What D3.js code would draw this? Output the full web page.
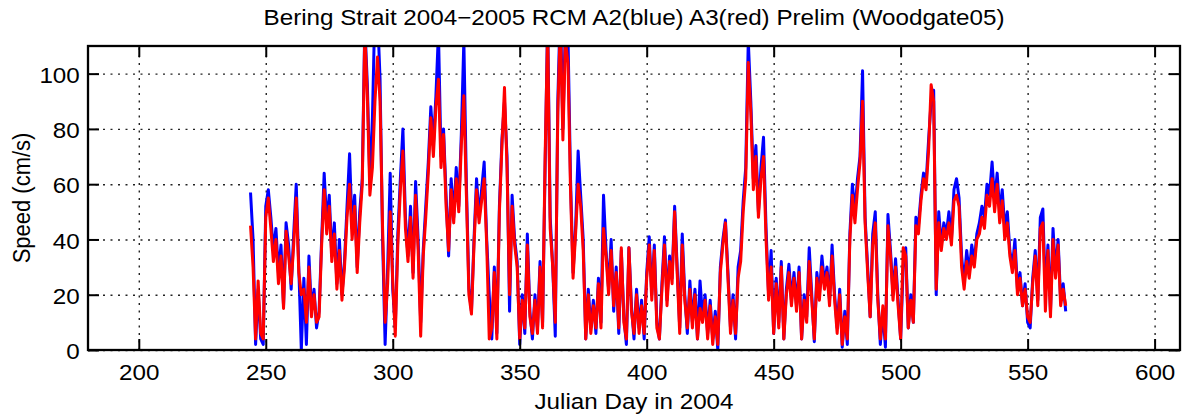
<!DOCTYPE html>
<html>
<head>
<meta charset="utf-8">
<script src="https://cdn.jsdelivr.net/npm/d3@7"></script>
<style>
body { margin: 0; background: #fff; }
text { font-family: "Liberation Sans", Arial, sans-serif; fill: #000; }
</style>
</head>
<body>
<div class="canvas"></div>
<script>
var width = 1185;
var height = 417;
var margin = { top: 46, right: 5, bottom: 67, left: 88 };

var titleText = "Bering Strait 2004\u22122005 RCM A2(blue) A3(red) Prelim (Woodgate05)";
var xLabel = "Julian Day in 2004";
var yLabel = "Speed (cm/s)";
var xTicks = [200, 250, 300, 350, 400, 450, 500, 550, 600];
var yTicks = [0, 20, 40, 60, 80, 100];

// one value per julian day, first one is day 244
var firstDay = 244;
var speedA2 = [
  57, 40, 2, 22, 4, 2, 52, 58, 48, 36, 44, 28, 38, 16, 46, 38, 22, 42, 60, 30,
  0, 26, 2, 34, 14, 22, 8, 14, 40, 64, 46, 56, 34, 46, 24, 40, 20, 32, 52, 71,
  44, 56, 30, 50, 62, 118, 96, 60, 84, 125, 122, 98, 40, 2, 30, 64, 22, 8, 42, 62,
  80, 48, 34, 52, 28, 61, 40, 10, 36, 52, 68, 88, 74, 92, 115, 70, 80, 56, 34, 62,
  48, 66, 52, 78, 112, 60, 22, 14, 40, 62, 48, 58, 68, 40, 20, 4, 30, 6, 52, 76,
  90, 70, 14, 56, 40, 32, 2, 20, 6, 42, 14, 4, 20, 8, 32, 10, 66, 120, 48, 30,
  5, 90, 125, 80, 118, 114, 62, 28, 44, 72, 56, 40, 4, 22, 8, 18, 6, 26, 10, 56,
  36, 22, 40, 14, 30, 6, 36, 12, 2, 37, 16, 4, 22, 8, 18, 4, 28, 41, 20, 38,
  10, 4, 24, 41, 18, 34, 26, 52, 30, 8, 42, 20, 6, 25, 10, 22, 4, 25, 12, 20,
  6, 18, 4, 14, 0, 30, 40, 47, 28, 8, 20, 4, 30, 36, 54, 66, 112, 90, 62, 74,
  50, 66, 77, 44, 20, 36, 6, 26, 10, 32, 4, 22, 31, 18, 28, 16, 30, 4, 20, 12,
  37, 20, 3, 28, 20, 34, 24, 30, 18, 38, 20, 8, 22, 1, 14, 2, 42, 60, 50, 62,
  70, 101, 48, 30, 12, 42, 50, 20, 2, 14, 1, 49, 36, 20, 33, 18, 4, 30, 37, 8,
  20, 10, 48, 45, 56, 64, 60, 76, 90, 94, 20, 50, 38, 46, 42, 50, 40, 58, 62, 55,
  34, 24, 36, 28, 38, 32, 42, 46, 52, 48, 60, 56, 68, 54, 64, 50, 58, 44, 50, 36,
  30, 40, 22, 28, 16, 24, 10, 8, 26, 36, 18, 48, 51, 20, 38, 14, 44, 28, 40, 18,
  24, 14
];
var speedA3 = [
  45, 30, 4, 25, 6, 4, 48, 55, 44, 32, 40, 24, 34, 15, 43, 34, 24, 38, 55, 28,
  20, 22, 10, 30, 12, 20, 10, 12, 38, 58, 42, 52, 32, 42, 22, 36, 18, 30, 48, 60,
  40, 52, 28, 46, 60, 115, 92, 56, 66, 90, 106, 90, 44, 10, 24, 50, 25, 5, 38, 58,
  72, 44, 32, 48, 26, 56, 36, 5, 34, 48, 64, 84, 70, 88, 98, 66, 78, 52, 36, 58,
  46, 62, 50, 74, 92, 56, 20, 13, 38, 58, 46, 54, 62, 38, 4, 8, 28, 4, 50, 74,
  95, 66, 20, 52, 38, 30, 4, 18, 8, 38, 12, 6, 18, 6, 30, 8, 70, 116, 44, 30,
  10, 86, 118, 76, 112, 104, 58, 26, 42, 60, 52, 36, 4, 20, 6, 16, 8, 24, 8, 44,
  34, 20, 36, 16, 28, 8, 37, 10, 4, 37, 14, 6, 20, 6, 16, 6, 26, 38, 18, 36,
  8, 4, 22, 38, 16, 32, 24, 50, 28, 6, 38, 18, 8, 22, 8, 20, 4, 15, 10, 18,
  4, 16, 2, 12, 2, 28, 38, 46, 26, 6, 18, 6, 26, 32, 50, 62, 104, 86, 58, 70,
  48, 62, 70, 40, 18, 30, 6, 24, 8, 30, 4, 20, 28, 16, 26, 14, 28, 4, 18, 10,
  32, 18, 4, 26, 18, 30, 22, 28, 16, 34, 18, 6, 20, 2, 12, 4, 40, 56, 46, 58,
  68, 90, 46, 28, 12, 38, 46, 18, 4, 16, 4, 45, 34, 18, 30, 16, 4, 37, 34, 8,
  18, 10, 45, 42, 54, 62, 58, 72, 96, 90, 22, 46, 36, 44, 40, 46, 38, 54, 56, 52,
  30, 22, 32, 26, 34, 30, 40, 42, 48, 44, 56, 52, 62, 50, 60, 46, 54, 40, 46, 34,
  28, 36, 20, 26, 16, 22, 12, 10, 24, 34, 16, 44, 46, 14, 36, 12, 40, 26, 38, 16,
  22, 16
];

var svg = d3.select(".canvas").append("svg")
    .attr("width", width)
    .attr("height", height)
    .style("background", "white");

var x = d3.scaleLinear().domain([180, 610]).range([margin.left, width - margin.right]);
var y = d3.scaleLinear().domain([0, 110]).range([height - margin.bottom, margin.top]);
var plotW = width - margin.left - margin.right;
var plotH = height - margin.top - margin.bottom;
var bottomY = height - margin.bottom;

svg.append("clipPath").attr("id", "plotclip")
    .append("rect")
    .attr("x", margin.left).attr("y", margin.top)
    .attr("width", plotW).attr("height", plotH);

// dotted grid
var gridX = svg.append("g")
    .attr("transform", "translate(0," + bottomY + ")")
    .call(d3.axisBottom(x).tickValues(xTicks).tickSize(-plotH).tickFormat(""));
var gridY = svg.append("g")
    .attr("transform", "translate(" + margin.left + ",0)")
    .call(d3.axisLeft(y).tickValues(yTicks).tickSize(-plotW).tickFormat(""));
[gridX, gridY].forEach(g => {
    g.select(".domain").remove();
    g.selectAll("line")
        .attr("stroke", "#222")
        .attr("stroke-width", 1.4)
        .attr("stroke-dasharray", "2,5.5");
});

// data lines, A2 under A3
var line = d3.line()
    .x((d, i) => x(firstDay + i))
    .y(d => y(d));

var lines = svg.append("g").attr("clip-path", "url(#plotclip)");
lines.append("path")
    .datum(speedA2)
    .attr("d", line)
    .attr("fill", "none")
    .attr("stroke", "#0000ff")
    .attr("stroke-width", 3)
    .attr("stroke-linejoin", "round");
lines.append("path")
    .datum(speedA3)
    .attr("d", line)
    .attr("fill", "none")
    .attr("stroke", "#ff0000")
    .attr("stroke-width", 3)
    .attr("stroke-linejoin", "round");

// axes with inward ticks on all four sides
var tickLen = 11;
var axB = svg.append("g")
    .attr("transform", "translate(0," + bottomY + ")")
    .call(d3.axisBottom(x).tickValues(xTicks).tickSizeInner(-tickLen).tickSizeOuter(0).tickPadding(14.5));
var axT = svg.append("g")
    .attr("transform", "translate(0," + margin.top + ")")
    .call(d3.axisTop(x).tickValues(xTicks).tickSizeInner(-tickLen).tickSizeOuter(0).tickFormat(""));
var axL = svg.append("g")
    .attr("transform", "translate(" + margin.left + ",0)")
    .call(d3.axisLeft(y).tickValues(yTicks).tickSizeInner(-tickLen).tickSizeOuter(0).tickPadding(7.5));
var axR = svg.append("g")
    .attr("transform", "translate(" + (width - margin.right) + ",0)")
    .call(d3.axisRight(y).tickValues(yTicks).tickSizeInner(-tickLen).tickSizeOuter(0).tickFormat(""));

[axB, axT, axL, axR].forEach(g => {
    g.select(".domain").remove();
    g.selectAll("line").attr("stroke", "#000").attr("stroke-width", 2);
    g.selectAll("text")
        .style("font-size", "22px")
        .style("font-family", "'Liberation Sans', Arial, sans-serif")
        .attr("fill", "#000");
});
axB.selectAll("text").attr("transform", "scale(1.1,1)");
axL.selectAll("text").attr("dy", "0.4em").attr("transform", "scale(1.1,1)");

svg.append("rect")
    .attr("x", margin.left).attr("y", margin.top)
    .attr("width", plotW).attr("height", plotH)
    .attr("fill", "none")
    .attr("stroke", "#000")
    .attr("stroke-width", 2.3);

var midX = margin.left + plotW / 2;

svg.append("text")
    .attr("transform", "translate(" + midX + ",25) scale(1.1,1)")
    .attr("text-anchor", "middle")
    .style("font-size", "22px")
    .text(titleText);

svg.append("text")
    .attr("transform", "translate(" + midX + ",409) scale(1.1,1)")
    .attr("text-anchor", "middle")
    .style("font-size", "22px")
    .text(xLabel);

svg.append("text")
    .attr("transform", "translate(30," + (margin.top + plotH / 2) + ") rotate(-90) scale(1,1.1)")
    .attr("text-anchor", "middle")
    .style("font-size", "22px")
    .text(yLabel);
</script>
</body>
</html>
